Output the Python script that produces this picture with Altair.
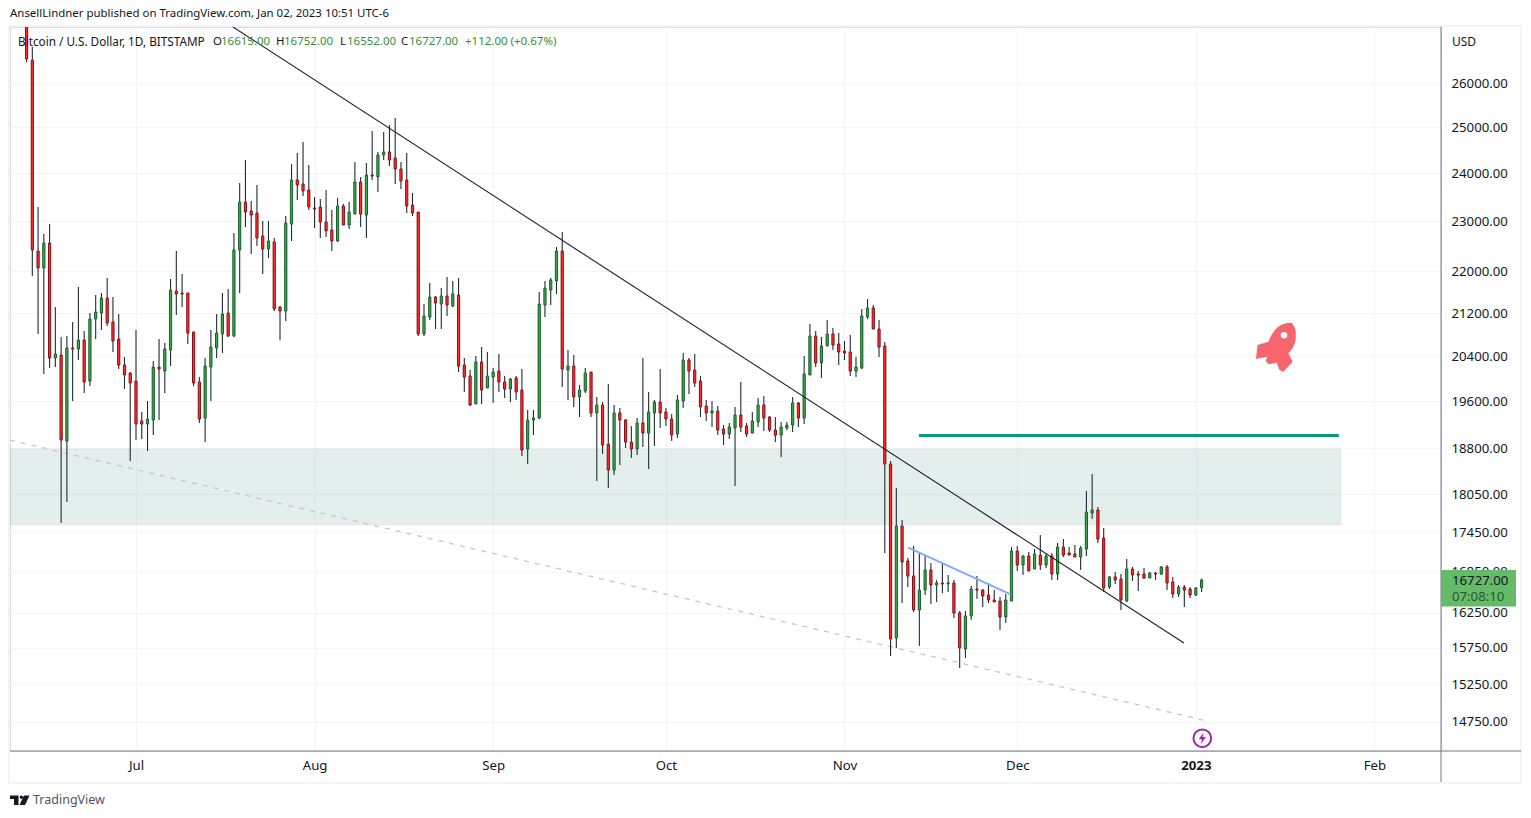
import altair as alt
import pandas as pd

# ---- daily candles (Jun 12 2022 -> Jan 2 2023)
open_ = [
    28400,26532,22399,22064,22559,20370,20425,18923,20552,20533,20698,19958,21088,21200,21484,21032,20716,20244,20100,
    19958,19263,19212,19280,20208,20136,20515,21618,21580,21580,20846,19941,19314,20208,20552,20809,21200,20772,22419,23395,23208,23167,22699,22439,22579,21313,21238,22941,23856,23771,23645,
    23270,23291,22983,22821,22599,23311,22922,23146,23813,23126,23962,23919,24391,24456,24326,24090,23856,23332,23188,20809,21125,21503,21370,21522,21332,21541,20244,20047,19556,20298,19835,
    20029,20136,19941,19818,20012,19800,18790,19280,19314,21351,21637,21811,22399,20154,20226,19678,19782,20118,19401,19538,18873,18443,19401,19280,18906,18790,19229,19058,19401,19590,
    19418,19297,19041,19608,20334,20154,19958,19521,19401,19435,19126,19041,19143,19366,19177,19058,19246,19538,19331,19109,19024,19143,19194,19573,19314,20065,20772,20280,20588,20809,20625,
    20497,20479,20136,20190,21125,21295,20901,20588,18541,15889,17549,17013,16787,16289,16580,16877,16654,16684,16669,16684,16246,15735,16203,16595,16580,16507,16434,16419,16188,16419,
    17164,16952,17088,16892,17103,16952,17088,16817,17225,17134,17118,17073,17194,17752,17800,17363,16624,16773,16743,16419,16892,16817,16817,16758,16832,16817,16922,16699,16522,16624,16595,
    16507,16615,
]
high = [
    28570,26844,23291,22740,22943,21313,20753,20772,21032,21695,20864,21200,21541,21580,21869,21503,21182,20388,20118,
    20883,19418,19608,20316,20716,20643,21850,22399,21947,21580,20846,20029,20370,20883,21182,21580,21656,22760,23793,24283,23415,23750,23004,23004,22659,21332,23106,24197,24434,24674,24175,
    23498,23457,23645,23229,23477,23353,23395,24240,23919,24218,24916,24456,24894,25049,25205,24240,24434,23582,23188,21370,21772,21522,21675,21888,21811,21869,20370,20154,20406,20570,20479,
    20190,20443,20047,20012,20047,20172,19452,19452,21599,21811,21869,22479,22780,20515,20425,19888,20190,20118,19678,19590,19905,19538,19487,19297,19177,19314,20370,19765,19625,20172,
    19487,19384,19712,20461,20370,20443,20047,19625,19608,19521,19194,19229,19504,19941,19229,19418,19660,19695,19349,19331,19246,19246,19678,19590,20406,20994,20864,20753,21069,20920,20827,
    20680,20790,20388,21276,21465,21351,21069,20661,18590,18151,17643,17058,17240,17134,17088,16983,16728,16968,16802,16728,16275,16275,16639,16787,16595,16684,16580,16478,16522,17225,
    17240,17103,17149,17194,17409,17118,17134,17286,17347,17225,17255,17240,18103,18378,17848,17518,16787,16847,16817,17043,16922,16862,16907,16847,16847,16937,16952,16773,16654,16654,16624,
    16624,16752,
]
low = [
    26485,21908,20809,20083,20190,20208,17596,17927,19608,20334,19748,19870,20716,20883,20957,20479,20172,19818,18590,
    18940,18957,18756,19024,19280,19748,20226,21163,21313,20625,19870,19229,18906,19608,20370,20461,20753,20753,21580,22882,22340,22499,21947,22261,21238,20698,21050,22599,23436,23519,23229,
    22862,22659,22679,22399,22579,22922,22841,23146,22882,22659,23856,23603,24283,24154,23771,23666,23167,23106,20772,20772,21069,20901,20901,21144,21313,20118,19765,19521,19556,19556,19835,
    19573,19765,19660,19590,19625,18673,18541,19024,19297,21125,21351,21560,19853,19625,19504,19331,19748,19331,18264,18706,18151,18361,18525,18806,18640,18690,18823,18459,18839,19143,
    19177,18923,18974,19487,19730,19853,19331,19263,19160,19024,18856,18957,18183,19075,18991,19058,19160,19092,19075,18906,18656,19109,19075,19160,19212,20065,20208,20012,20588,20515,20244,
    20334,20047,20029,20172,21088,20901,20388,17134,15638,15749,16390,16624,16260,15777,16507,16376,16405,16536,16551,16174,15472,15610,16145,16449,16332,16390,16405,16002,16102,16419,
    16862,16802,16862,16892,16877,16907,16728,16728,17073,17103,17073,16877,17088,17659,17286,16551,16595,16669,16289,16405,16713,16566,16743,16758,16728,16802,16580,16463,16478,16332,16463,
    16492,16552,
]
close = [
    26560,22419,22064,22559,20370,20443,18940,20552,20533,20698,19941,21088,21219,21484,21013,20680,20244,20065,19923,
    19212,19212,19297,20208,20172,20533,21637,21560,21560,20827,19923,19297,20226,20570,20827,21182,20772,22419,23395,23188,23126,22659,22439,22599,21276,21238,22962,23856,23750,23624,23291,
    23249,22983,22801,22599,23311,22922,23188,23813,23146,23962,23940,24391,24456,24283,24090,23835,23311,23167,20809,21144,21503,21389,21522,21351,21560,20226,20029,19538,20298,19800,20047,
    20118,19941,19818,19994,19765,18773,19280,19314,21370,21675,21830,22399,20172,20226,19678,19800,20100,19401,19538,18856,18443,19401,19280,18906,18790,19229,19058,19418,19590,19401,
    19297,19024,19625,20334,20136,19923,19504,19401,19435,19109,19041,19160,19366,19160,19041,19263,19538,19314,19109,19024,19160,19194,19573,19314,20083,20772,20280,20588,20809,20606,20479,
    20461,20136,20208,21144,21295,20901,20570,18541,15875,17549,16998,16787,16289,16580,16877,16654,16684,16669,16684,16246,15749,16203,16595,16580,16492,16434,16405,16188,16434,17164,
    16952,17088,16862,17118,16952,17088,16817,17225,17103,17103,17073,17209,17768,17800,17347,16610,16773,16728,16434,16892,16802,16802,16758,16832,16817,16922,16684,16522,16624,16580,16507,
    16610,16727,
]
dates = pd.date_range("2022-06-12", "2023-01-02", freq="D").strftime("%Y-%m-%dT00:00:00Z").tolist()

price_ticks = [26000,25000,24000,23000,22000,21200,20400,19600,18800,18050,17450,16850,16250,15750,15250,14750]
month_ticks = ["2022-07-01T00:00:00Z","2022-08-01T00:00:00Z","2022-09-01T00:00:00Z","2022-10-01T00:00:00Z",
               "2022-11-01T00:00:00Z","2022-12-01T00:00:00Z","2023-01-01T00:00:00Z","2023-02-01T00:00:00Z"]

# drawings on the chart, in chart units
zone_dates = ["2022-06-09T03:00:00Z", "2023-01-26T05:00:00Z"]
zone_prices = [18790, 17565]
green_line_dates = ["2022-11-13T22:30:00Z", "2023-01-25T20:00:00Z"]
green_line_prices = [19017, 19017]
black_line_dates = ["2022-07-17T20:00:00Z", "2022-12-29T22:30:00Z"]
black_line_prices = [27325, 15819]
dash_line_dates = ["2022-06-09T03:00:00Z", "2023-01-02T06:00:00Z"]
dash_line_prices = [18940, 14773]
blue_line_dates = ["2022-11-12T02:00:00Z", "2022-11-29T20:00:00Z"]
blue_line_prices = [17215, 16517]

X_DOMAIN = ["2022-06-09T03:00:00Z", "2023-02-12T13:30:00Z"]
Y_DOMAIN = [14373, 27325]
W, H = 1431, 724
FONT = "Noto Sans"
INK = "#131722"
GRID = "#f2f4f8"
AXIS = "#787b86"

assert len(dates) == len(open_) == len(high) == len(low) == len(close)

candles = pd.DataFrame({"date": dates, "o": open_, "h": high, "l": low, "c": close})
candles["dir"] = ["up" if c >= o else "down" for o, c in zip(open_, close)]

x_scale = alt.Scale(type="utc", domain=X_DOMAIN, padding=0, nice=False)
y_scale = alt.Scale(type="log", domain=Y_DOMAIN, nice=False, zero=False)

x_axis = alt.Axis(
    values=month_ticks, title=None, domain=False, ticks=False, grid=True, gridColor=GRID, gridWidth=1,
    labelExpr="utcmonth(datum.value)==0 ? '2023' : utcFormat(datum.value,'%b')",
    labelFont=FONT, labelFontSize=13.2, labelColor=INK, labelPadding=8, labelFlush=False, labelOverlap=False,
    labelFontWeight={"condition": {"test": "utcmonth(datum.value)==0", "value": 700}, "value": 400},
)
y_axis = alt.Axis(
    orient="right", values=price_ticks, title=None, format=".2f", domain=False, ticks=False, grid=True,
    gridColor=GRID, gridWidth=1, labelFont=FONT, labelFontSize=13.2, labelColor=INK, labelPadding=10,
    labelOverlap=False, labelFlush=False,
)
X = alt.X("date:T", scale=x_scale, axis=x_axis)
Y = alt.Y("y:Q", scale=y_scale, axis=y_axis)


def seg(dates_, prices):
    return alt.Data(values=[{"date": d, "y": p} for d, p in zip(dates_, prices)])


def one():
    return alt.Chart(alt.Data(values=[{}]))


def hud(txt, px, py, size=12, color=INK, align="left", weight=400, font=FONT):
    return alt.Chart(alt.Data(values=[{"t": txt}])).mark_text(
        align=align, baseline="middle", font=font, fontSize=size, color=color, fontWeight=weight
    ).encode(x=alt.value(px - 10), y=alt.value(py - 27), text="t:N")


def glyph(path, px, py, size, color):
    return one().mark_point(shape=path, size=size, filled=True, fill=color, stroke=None, opacity=1).encode(
        x=alt.value(px - 10), y=alt.value(py - 27))


def rule(x1, y1, x2, y2, color=AXIS, w=1):
    return one().mark_rule(color=color, strokeWidth=w).encode(
        x=alt.value(x1 - 10), x2=alt.value(x2 - 10), y=alt.value(y1 - 27), y2=alt.value(y2 - 27))


zone = alt.Chart(alt.Data(values=[{"d1": zone_dates[0], "d2": zone_dates[1], "p1": zone_prices[0], "p2": zone_prices[1]}])).mark_rect(
    fill="#5f9a8c", fillOpacity=0.17, stroke="#5f9a8c", strokeOpacity=0.08, clip=True
).encode(
    x=alt.X("d1:T", scale=x_scale, axis=x_axis), x2="d2:T",
    y=alt.Y("p1:Q", scale=y_scale, axis=y_axis), y2="p2:Q")

dash = alt.Chart(seg(dash_line_dates, dash_line_prices)).mark_line(
    color="#c6c7c9", strokeWidth=1.3, strokeDash=[5, 6], clip=True).encode(x=X, y=Y)

wicks = alt.Chart(candles).mark_rule(color="#1f2c33", strokeWidth=1.1, clip=True).encode(
    x=alt.X("date:T", scale=x_scale, axis=x_axis),
    y=alt.Y("h:Q", scale=y_scale, axis=y_axis), y2="l:Q")

bodies = alt.Chart(candles).mark_bar(size=2.2, strokeWidth=1, clip=True).encode(
    x=alt.X("date:T", scale=x_scale, axis=x_axis),
    y=alt.Y("o:Q", scale=y_scale, axis=y_axis), y2="c:Q",
    fill=alt.Fill("dir:N", scale=alt.Scale(domain=["up", "down"], range=["#3fa64a", "#ff2f2f"]), legend=None),
    stroke=alt.Stroke("dir:N", scale=alt.Scale(domain=["up", "down"], range=["#17602a", "#8a0e12"]), legend=None),
)

black = alt.Chart(seg(black_line_dates, black_line_prices)).mark_line(
    color="#1c1f26", strokeWidth=1.1, clip=True).encode(x=X, y=Y)
blue = alt.Chart(seg(blue_line_dates, blue_line_prices)).mark_line(
    color="#82a8ff", strokeWidth=2, clip=True).encode(x=X, y=Y)
green = alt.Chart(seg(green_line_dates, green_line_prices)).mark_line(
    color="#089981", strokeWidth=3, clip=True).encode(x=X, y=Y)

ROCKET = ("M.64,-.97 Q.82,-.75 .8,-.55 Q.82,-.3 .77,-.15 Q.68,.08 .51,.25 L.68,.59 L.31,.99 L.15,.92 L.04,.63 "
          "L-.29,.69 L-.4,.55 L-.33,.39 L-.79,.48 L-.73,-.08 L-.29,-.21 Q-.18,-.5 -.03,-.68 Q.15,-.88 .31,-.92 Q.5,-.98 .64,-.97 Z")
TV_T = "M-.97,-.45 L-.12,-.45 L-.12,.5 L-.57,.5 L-.57,-.1 L-.97,-.1 Z"
TV_DOT = "M0,-.27 A.17,.17 0 1 1 .34,-.27 A.17,.17 0 1 1 0,-.27 Z"
TV_SLASH = "M.43,-.45 L.98,-.45 L.53,.5 L-.02,.5 Z"
BOLT = "M.25,-1 L-.6,.15 L-.05,.15 L-.25,1 L.6,-.2 L.05,-.2 Z"

price_box = one().mark_rect(fill="#66bb6a").encode(
    x=alt.value(1441 - 10), x2=alt.value(1516 - 10), y=alt.value(570 - 27), y2=alt.value(606.5 - 27))

frame = one().mark_rect(fillOpacity=0, stroke=GRID, strokeWidth=2).encode(
    x=alt.value(-1), x2=alt.value(1511), y=alt.value(-1), y2=alt.value(756))

bolt_ring = one().mark_point(shape="circle", size=314, filled=False, stroke="#9c27b0", strokeWidth=2, fill="#ffffff", fillOpacity=1, opacity=1).encode(
    x=alt.value(1202.3 - 10), y=alt.value(738.3 - 27))

chart = alt.layer(
    zone, dash, wicks, bodies, black, blue, green,
    glyph(ROCKET, 1275.7, 347, 2500, "#f7666f"),
    one().mark_point(shape="circle", size=43, filled=True, fill="#ffffff", opacity=1).encode(x=alt.value(1284 - 10), y=alt.value(335.3 - 27)),
    frame,
    rule(1441, 27, 1441, 782),
    rule(10, 751, 1521, 751),
    price_box,
    hud("16727.00", 1452, 581, size=13.2),
    hud("07:08:10", 1452, 597, size=13.2, color="#1f5c2b"),
    bolt_ring,
    glyph(BOLT, 1202.3, 738.3, 144, "#9c27b0"),
    hud("AnsellLindner published on TradingView.com, Jan 02, 2023 10:51 UTC-6", 10, 14, size=11.45),
    hud("Bitcoin / U.S. Dollar, 1D, BITSTAMP", 18, 42, size=11.75),
    hud("O", 213, 42, size=11.5), hud("16615.00", 221, 42, size=11.5, color="#388e3c"),
    hud("H", 276, 42, size=11.5), hud("16752.00", 284, 42, size=11.5, color="#388e3c"),
    hud("L", 340, 42, size=11.5), hud("16552.00", 347, 42, size=11.5, color="#388e3c"),
    hud("C", 401, 42, size=11.5), hud("16727.00", 409, 42, size=11.5, color="#388e3c"),
    hud("+112.00 (+0.67%)", 465, 42, size=11.5, color="#388e3c"),
    hud("USD", 1452, 42, size=12),
    glyph(TV_T, 19.7, 800, 400, INK), glyph(TV_DOT, 19.7, 800, 400, INK), glyph(TV_SLASH, 19.7, 800, 400, INK),
    hud("TradingView", 33, 800, size=12.5, color="#50535e"),
).resolve_scale(x="shared", y="shared").properties(
    width=W, height=H,
    autosize=alt.AutoSizeParams(type="none"),
    padding={"left": 2, "top": 19, "right": 82, "bottom": 58},
).configure_view(stroke=None).configure(background="#ffffff")

chart.save("out.html", embed_options={"renderer": "svg", "actions": False})
